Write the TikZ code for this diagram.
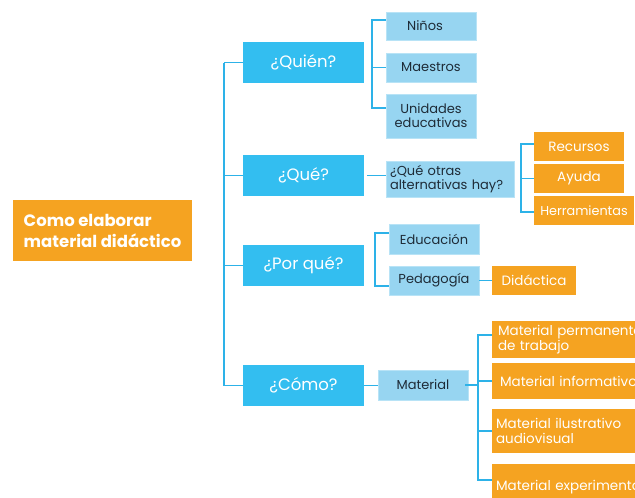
\documentclass[tikz,border=0pt]{standalone}
\usepackage{fontspec}
\setmainfont{Poppins}
\usetikzlibrary{calc}
\definecolor{cOne}{HTML}{33BEF0}
\definecolor{cTwo}{HTML}{97D5F1}
\definecolor{cTwoB}{HTML}{B8E3F6}
\definecolor{cOr}{HTML}{F5A321}
\definecolor{cLine}{HTML}{2DB2E8}
\definecolor{cDark}{HTML}{1E2B37}
\tikzset{
  sz/.style 2 args={minimum width=#1pt, minimum height=#2pt},
  rootbox/.style={fill=cOr, text=white, inner sep=0pt, align=left,
    font=\fontsize{16.5}{21}\selectfont\bfseries},
  lone/.style={fill=cOne, text=white, inner sep=0pt,
    font=\fontsize{16.5}{18}\selectfont},
  ltwo/.style={fill=cTwo, draw=cTwoB, line width=0.6pt, text=cDark, inner sep=0pt,
    align=center, font=\fontsize{13}{14}\selectfont},
  lor/.style={fill=cOr, text=white, inner sep=0pt, align=center,
    font=\fontsize{13.5}{15}\selectfont},
  conn/.style={draw=cLine, line width=1.6pt},
}
\begin{document}
\begin{tikzpicture}[x=1pt,y=-1pt]
\useasboundingbox (0,0) rectangle (635,498);
\clip (0,0) rectangle (635,498);
% root
\node[rootbox, sz={179}{61}] (root) at (102.5,230.5) {Como elaborar\\material didáctico};
% level 1
\node[lone, sz={121}{41}] (quien) at (303.5,62.5) {¿Quién?};
\node[lone, sz={121}{41}] (que) at (303.5,175.5) {¿Qué?};
\node[lone, sz={121}{41}] (porque) at (303.5,265.5) {¿Por qué?};
\node[lone, sz={121}{41}] (como) at (303.5,385.5) {¿Cómo?};
\coordinate (spine) at (224,0);
\draw[conn] (quien.west -| spine) -- (como.west -| spine);
\foreach \n in {quien,que,porque,como}{\draw[conn] (\n.west) -- (\n.west -| spine);}
% Quién children
\node[ltwo, sz={90}{28}] (ninos) at (431,26) {Niños\hspace*{12pt}};
\node[ltwo, sz={90}{29}] (maestros) at (431,67.5) {Maestros};
\node[ltwo, sz={90}{44}] (unidades) at (431,116) {Unidades\\educativas};
\draw[conn] ($(ninos.west)+(0,-6)$) -- ++(-14,0) |- ($(unidades.west)+(0,-8)$);
\draw[conn] (maestros.west) -- ++(-14,0);
% Qué children
\node[ltwo, sz={128}{36}, text width=120pt, align=left] (alt) at (450,179) {¿Qué otras\\alternativas hay?};
\draw[conn] ($(que.east)+(3,0)$) -- (que.east -| alt.west);
\node[lor, sz={90}{29}] (recursos) at (579,146.5) {Recursos};
\node[lor, sz={90}{29}] (ayuda) at (579,178.5) {Ayuda};
\node[lor, sz={100}{29}, font=\fontsize{12.8}{15}\selectfont] (herr) at (584,210.5) {Herramientas};
\draw[conn] ($(recursos.west)+(0,-2.5)$) -- ++(-13,0) |- ($(herr.west)+(0,1.5)$);
\draw[conn] (ayuda.west) -- ++(-13,0);
% Por qué children
\node[ltwo, sz={90}{30}] (edu) at (434,239) {Educación};
\node[ltwo, sz={90}{29}] (ped) at (434,280.5) {Pedagogía};
\draw[conn] ($(edu.west)+(0,-6)$) -- ++(-14,0) |- ($(ped.west)+(0,5.5)$);
\node[lor, sz={84}{29}] (did) at (534,280.5) {Didáctica};
\draw[conn] (ped.east) -- (did.west);
% Cómo children
\node[ltwo, sz={90}{30}] (mat) at (423,385) {Material};
\draw[conn] (como.east) -- (como.east -| mat.west);
\node[lor, sz={168}{37}, text width=156pt, align=left] (perm) at (576,339.5) {Material permanente\\de trabajo};
\node[lor, sz={168}{36}, text width=152pt, align=left] (info) at (576,381) {Material informativo};
\node[lor, sz={168}{44}, text width=160pt, align=left] (ilus) at (576,431) {Material ilustrativo\\audiovisual};
\node[lor, sz={168}{46}, text width=160pt, align=left] (expe) at (576,487) {Material experimental};
\draw[conn] ($(perm.west)+(0,-4.5)$) -- ++(-14,0) |- ($(expe.west)+(0,-7)$);
\draw[conn] (info.west) -- ++(-14,0);
\draw[conn] (ilus.west) -- ++(-14,0);
\draw[conn] ($(mat.east)+(-3,0)$) -- ++(13,0);
\end{tikzpicture}
\end{document}
